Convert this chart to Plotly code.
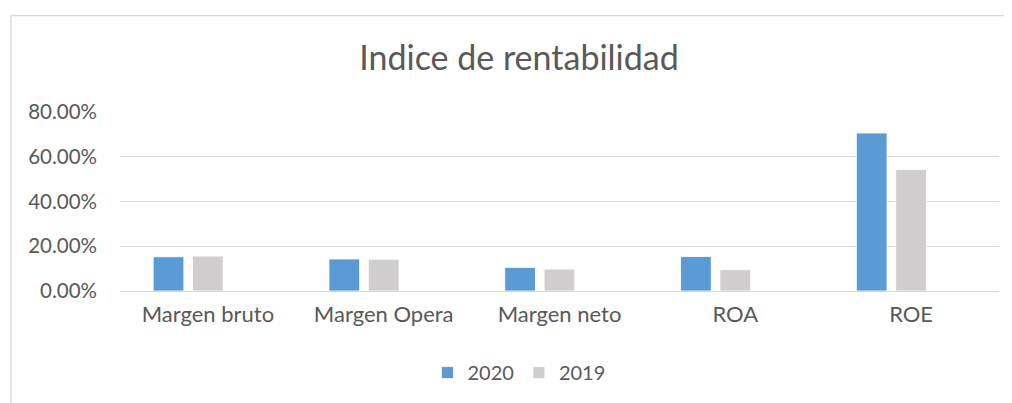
import plotly.graph_objects as go

categories = ["Margen bruto", "Margen Opera", "Margen neto", "ROA", "ROE"]
series_names = ["2020", "2019"]
values_2020 = [0.153, 0.143, 0.105, 0.154, 0.706]
values_2019 = [0.156, 0.142, 0.098, 0.095, 0.543]
y_ticks = [0.0, 0.2, 0.4, 0.6, 0.8]

FONT = "Lato"
TXT = "#595959"
GRID = "#D9D9D9"

fig = go.Figure()
bar_w = 0.1746
fig.add_trace(go.Bar(x=categories, y=values_2020, name=series_names[0],
                     marker=dict(color="#5B9BD5", line=dict(color="white", width=0.8)),
                     width=bar_w, offset=-0.3114))
fig.add_trace(go.Bar(x=categories, y=values_2019, name=series_names[1],
                     marker=dict(color="#D0CECE", line=dict(color="white", width=0.8)),
                     width=bar_w, offset=-0.0876))

# page is rendered with an 8px body margin; work in page coordinates
OFF = 8
W, H = 1012 - OFF, 403 - OFF
PL, PR, PT, PB = 120, 999, 112, 291.3   # plot area in page coords
L = PL - OFF
R = 1012 - PR
T = PT - OFF
B = 403 - PB
pw = PR - PL
ph = PB - PT

def px(x):
    return (x - PL) / pw

def py(y):
    return (PB - y) / ph

fig.update_layout(
    width=W, height=H,
    margin=dict(l=L, r=R, t=T, b=B, autoexpand=False),
    paper_bgcolor="white", plot_bgcolor="white",
    barmode="overlay",
    font=dict(family=FONT, color=TXT),
    title=dict(text="Indice de rentabilidad", x=(519 - OFF) / W, xanchor="center",
               y=1 - (58 - OFF) / H, yanchor="middle", yref="container",
               font=dict(family=FONT, size=34, color=TXT)),
    showlegend=True,
    legend=dict(orientation="h", x=px(519), xanchor="center", y=py(373), yanchor="middle",
                font=dict(family=FONT, size=20, color=TXT), itemwidth=30,
                traceorder="normal"),
    xaxis=dict(type="category", range=[-0.5, 4.5], showgrid=False, showline=False,
               ticks="", tickfont=dict(family=FONT, size=22, color=TXT),
               ticklabelstandoff=8, zeroline=False),
    yaxis=dict(range=[0, 0.8], tickvals=y_ticks, tickformat=".2%", showgrid=True,
               gridcolor=GRID, gridwidth=1.3, zeroline=True, zerolinecolor=GRID,
               zerolinewidth=1.3, showline=False, ticks="",
               tickfont=dict(family=FONT, size=20.5, color=TXT), ticklabelstandoff=22),
    shapes=[dict(type="rect", xref="paper", yref="paper",
                 x0=px(11), x1=px(1030), y0=py(430), y1=py(15.5),
                 line=dict(color=GRID, width=1.3), fillcolor="rgba(0,0,0,0)", layer="below")],
)

fig.write_html("out.html")
